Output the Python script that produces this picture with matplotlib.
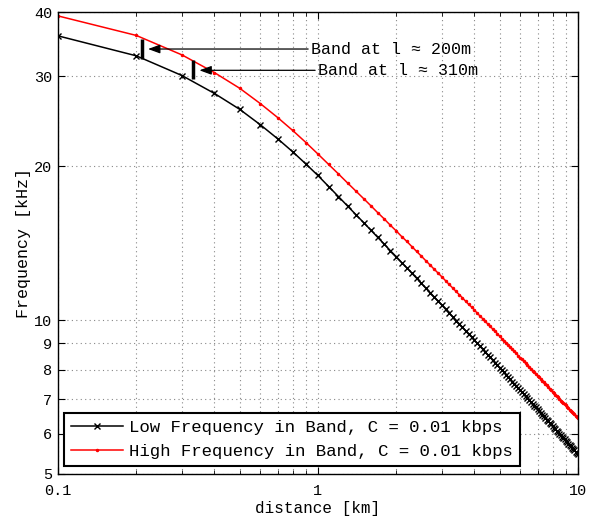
import numpy as np
import matplotlib
matplotlib.use("Agg")
import matplotlib.pyplot as plt
from matplotlib.ticker import FixedLocator, NullFormatter

# --- DATA ---
distance_km = np.round(np.arange(1, 101) * 0.1, 1)

low_freq_khz = [
    35.97, 32.88, 30.08, 27.75, 25.84, 24.11, 22.63, 21.34, 20.19, 19.18,
    18.25, 17.44, 16.72, 16.08, 15.51, 14.99, 14.51, 14.08, 13.67, 13.31,
    12.96, 12.65, 12.35, 12.07, 11.80, 11.55, 11.32, 11.10, 10.89, 10.70,
    10.50, 10.32, 10.15, 9.98, 9.83, 9.68, 9.53, 9.39, 9.27, 9.14,
    9.01, 8.89, 8.78, 8.67, 8.56, 8.46, 8.35, 8.26, 8.17, 8.07,
    7.98, 7.91, 7.82, 7.74, 7.66, 7.58, 7.51, 7.44, 7.36, 7.29,
    7.23, 7.17, 7.10, 7.04, 6.98, 6.91, 6.85, 6.80, 6.75, 6.69,
    6.64, 6.58, 6.53, 6.49, 6.44, 6.39, 6.34, 6.29, 6.25, 6.20,
    6.16, 6.12, 6.08, 6.04, 6.00, 5.95, 5.91, 5.88, 5.85, 5.81,
    5.77, 5.73, 5.70, 5.66, 5.63, 5.60, 5.57, 5.53, 5.50, 5.47,
]

high_freq_khz = [
    39.35, 36.04, 33.01, 30.48, 28.41, 26.52, 24.90, 23.49, 22.24, 21.13,
    20.16, 19.31, 18.55, 17.88, 17.28, 16.73, 16.22, 15.77, 15.33, 14.95,
    14.57, 14.25, 13.92, 13.62, 13.34, 13.07, 12.82, 12.58, 12.36, 12.15,
    11.94, 11.74, 11.56, 11.38, 11.21, 11.05, 10.89, 10.74, 10.61, 10.47,
    10.32, 10.19, 10.07, 9.95, 9.83, 9.73, 9.61, 9.51, 9.41, 9.30,
    9.20, 9.12, 9.03, 8.94, 8.85, 8.76, 8.69, 8.61, 8.52, 8.44,
    8.38, 8.31, 8.23, 8.17, 8.10, 8.02, 7.96, 7.91, 7.85, 7.78,
    7.73, 7.66, 7.60, 7.56, 7.51, 7.45, 7.39, 7.34, 7.29, 7.24,
    7.20, 7.15, 7.11, 7.06, 7.02, 6.96, 6.92, 6.89, 6.85, 6.81,
    6.76, 6.72, 6.68, 6.64, 6.61, 6.57, 6.54, 6.49, 6.46, 6.43,
]

# band markers: (distance, low, high) and arrow tips / label anchors
band_x = [0.21, 0.33]
band_low = [32.4, 29.6]
band_high = [35.5, 32.2]
band_tip_x = [0.222, 0.350]
band_tip_y = [33.9, 30.8]
band_text_x = [0.94, 1.0]
band_labels = ["Band at l \u2248 200m", "Band at l \u2248 310m"]

y_ticks = [5, 6, 7, 8, 9, 10, 20, 30, 40]
x_ticks = [0.1, 1, 10]
x_tick_labels = ["0.1", "1", "10"]

# --- STYLE ---
FONT = ["Liberation Mono", "DejaVu Sans Mono"]
plt.rcParams["font.family"] = FONT
plt.rcParams["font.size"] = 12

fig = plt.figure(figsize=(5.92, 5.16), dpi=100)
ax = fig.add_axes([0.098, 0.0814, 0.878, 0.8948])

ax.plot(distance_km, low_freq_khz, color="black", lw=1.1, marker="x",
        ms=5, mew=1.0, label="Low Frequency in Band, C = 0.01 kbps")
ax.plot(distance_km, high_freq_khz, color="red", lw=1.1, marker=".",
        ms=3, label="High Frequency in Band, C = 0.01 kbps")

ax.set_xscale("log")
ax.set_yscale("log")
ax.set_xlim(0.1, 10)
ax.set_ylim(5, 40)

ax.yaxis.set_major_locator(FixedLocator(y_ticks))
ax.yaxis.set_minor_locator(FixedLocator([]))
ax.set_yticklabels([str(t) for t in y_ticks])
ax.xaxis.set_major_locator(FixedLocator(x_ticks))
ax.set_xticklabels(x_tick_labels)
ax.xaxis.set_minor_formatter(NullFormatter())

ax.tick_params(which="both", direction="in", top=True, right=True,
               labelsize=11)
ax.tick_params(axis="x", pad=7)
ax.tick_params(axis="y", pad=4)
ax.tick_params(which="major", length=5)
ax.tick_params(which="minor", length=3)

ax.grid(True, which="major", linestyle=(0, (1, 3)), color="#888888", lw=0.8)
ax.grid(True, which="minor", axis="x", linestyle=(0, (1, 3)),
        color="#888888", lw=0.8)

for sp in ax.spines.values():
    sp.set_linewidth(1.0)

# band bars and arrows
for bx, lo, hi in zip(band_x, band_low, band_high):
    ax.plot([bx, bx], [lo, hi], color="black", lw=2.5, solid_capstyle="butt")

for tx, ty, lx, lab in zip(band_tip_x, band_tip_y, band_text_x, band_labels):
    ax.annotate(lab, xy=(tx, ty), xytext=(lx, ty), textcoords="data",
                ha="left", va="center", fontsize=12,
                arrowprops=dict(arrowstyle="-|>,head_length=0.6,head_width=0.22",
                                color="black", lw=0.9, shrinkA=0, shrinkB=0))

ax.set_xlabel("distance [km]", fontsize=11.5, va="bottom")
ax.xaxis.set_label_coords(0.5, -0.0899)
ax.set_ylabel("Frequency [kHz]", fontsize=12, labelpad=2)

leg = ax.legend(loc="lower left", bbox_to_anchor=(0.012, 0.018),
                fancybox=False, framealpha=1, edgecolor="black",
                handlelength=3.0, handletextpad=0.35, borderpad=0.4,
                labelspacing=0.5, fontsize=12.5, borderaxespad=0)
leg.get_frame().set_linewidth(1.5)

fig.savefig("out.png", dpi=100)
